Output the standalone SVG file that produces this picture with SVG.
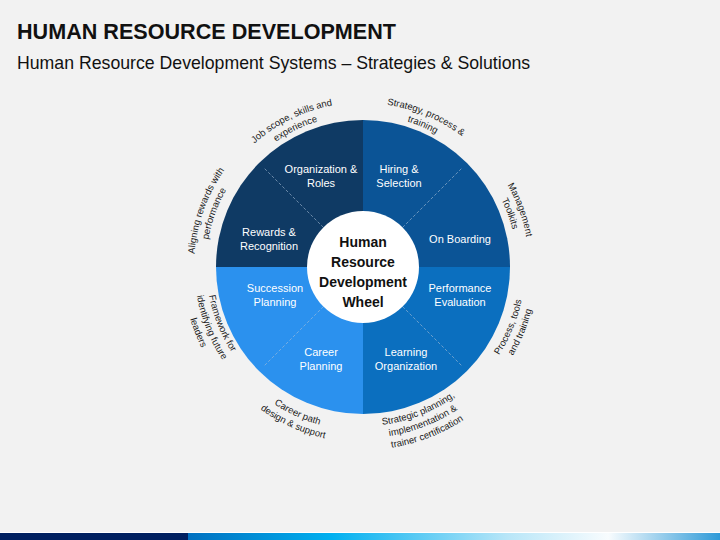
<svg xmlns="http://www.w3.org/2000/svg" width="720" height="540" viewBox="0 0 720 540">
<style>
.t{font-family:"Liberation Sans",Arial,sans-serif;fill:#111}
.sec{font-family:"Liberation Sans",Arial,sans-serif;font-size:11px;fill:#ffffff;text-anchor:middle}
.ctr{font-family:"Liberation Sans",Arial,sans-serif;font-size:14px;font-weight:bold;fill:#111;text-anchor:middle}
.lab{font-family:"Liberation Sans",Arial,sans-serif;font-size:9.5px;fill:#1a1a1a;text-anchor:middle}
.dash{stroke:#a9c0d6;stroke-opacity:0.75;stroke-width:0.8;stroke-dasharray:3 2;fill:none}
</style>
<defs>
<linearGradient id="bar" x1="0" y1="0" x2="1" y2="0">
<stop offset="0" stop-color="#0070c0"/>
<stop offset="0.27" stop-color="#00b0f0"/>
<stop offset="0.6" stop-color="#b8e6f8"/>
<stop offset="0.79" stop-color="#f8fcfe"/>
<stop offset="1" stop-color="#2e9ad8"/>
</linearGradient>
<path id="pA1" d="M203.4,227.2 A164.5,164.5 0 0 1 429.9,116.7"/>
<path id="pA2" d="M215.0,230.1 A152.5,152.5 0 0 1 425.0,127.7"/>
<path id="pB1" d="M288.0,121.1 A164,164 0 0 1 519.7,218.5"/>
<path id="pB2" d="M293.5,131.8 A152,152 0 0 1 508.2,222.1"/>
<path id="pC1" d="M419.8,111.0 A166,166 0 0 1 506.8,350.0"/>
<path id="pC2" d="M415.7,122.3 A154,154 0 0 1 496.4,344.0"/>
<path id="pD1" d="M412.0,421.4 A162,162 0 0 0 506.6,191.9"/>
<path id="pD2" d="M415.6,432.9 A174,174 0 0 0 517.2,186.4"/>
<path id="pE1" d="M286.4,406.3 A159,159 0 0 0 513.5,318.2"/>
<path id="pE2" d="M280.6,416.8 A171,171 0 0 0 524.9,322.1"/>
<path id="pE3" d="M274.8,427.4 A183,183 0 0 0 536.2,326.0"/>
<path id="pF1" d="M205.7,311.5 A163.5,163.5 0 0 0 434.2,414.2"/>
<path id="pF2" d="M194.1,314.8 A175.5,175.5 0 0 0 439.4,425.0"/>
<path id="pG1" d="M225.2,192.8 A156.5,156.5 0 0 0 313.9,415.6"/>
<path id="pG2" d="M214.6,187.1 A168.5,168.5 0 0 0 310.1,427.0"/>
<path id="pG3" d="M204.1,181.4 A180.5,180.5 0 0 0 306.3,438.4"/>
<path id="pH1" d="M217.1,352.3 A169,169 0 0 1 304.4,108.5"/>
<path id="pH2" d="M227.4,346.2 A157,157 0 0 1 308.5,119.7"/>
</defs>
<rect width="720" height="540" fill="#f2f2f2"/>
<text class="t" x="17" y="38.5" font-size="22" font-weight="bold" textLength="379" lengthAdjust="spacingAndGlyphs">HUMAN RESOURCE DEVELOPMENT</text>
<text class="t" x="17" y="69" font-size="17.7">Human Resource Development Systems – Strategies &amp; Solutions</text>
<g id="wheel">
<g id="q-top-left"><path d="M363,267 L216,267 A147,147 0 0 1 363,120 Z" fill="#0f3a64"/></g>
<g id="q-top-right"><path d="M363,267 L363,120 A147,147 0 0 1 510,267 Z" fill="#0b5496"/></g>
<g id="q-bottom-right"><path d="M363,267 L510,267 A147,147 0 0 1 363,414 Z" fill="#0b6fbf"/></g>
<g id="q-bottom-left"><path d="M363,267 L363,414 A147,147 0 0 1 216,267 Z" fill="#2b91ee"/></g>
</g>
<g id="connectors">
<line class="dash" x1="323.4" y1="227.4" x2="263.7" y2="167.7"/>
<line class="dash" x1="402.6" y1="227.4" x2="462.3" y2="167.7"/>
<line class="dash" x1="402.6" y1="306.6" x2="462.3" y2="366.3"/>
<line class="dash" x1="323.4" y1="306.6" x2="263.7" y2="366.3"/>
</g>
<g id="node-org"><text class="sec" x="321" y="173">Organization &amp;</text><text class="sec" x="321" y="187">Roles</text></g>
<g id="node-hiring"><text class="sec" x="399" y="173">Hiring &amp;</text><text class="sec" x="399" y="187">Selection</text></g>
<g id="node-onboarding"><text class="sec" x="460" y="243">On Boarding</text></g>
<g id="node-rewards"><text class="sec" x="269" y="236">Rewards &amp;</text><text class="sec" x="269" y="250">Recognition</text></g>
<g id="node-succession"><text class="sec" x="275" y="292">Succession</text><text class="sec" x="275" y="306">Planning</text></g>
<g id="node-career"><text class="sec" x="321" y="356">Career</text><text class="sec" x="321" y="370">Planning</text></g>
<g id="node-performance"><text class="sec" x="460" y="292">Performance</text><text class="sec" x="460" y="306">Evaluation</text></g>
<g id="node-learning"><text class="sec" x="406" y="356">Learning</text><text class="sec" x="406" y="370">Organization</text></g>
<g id="node-center">
<circle cx="363" cy="267" r="56" fill="#ffffff"/>
<text class="ctr" x="363" y="246.5">Human</text>
<text class="ctr" x="363" y="266.5">Resource</text>
<text class="ctr" x="363" y="286.5">Development</text>
<text class="ctr" x="363" y="306.5">Wheel</text>
</g>
<g id="outer-labels">
<text class="lab"><textPath href="#pA1" startOffset="50%">Job scope, skills and</textPath></text>
<text class="lab"><textPath href="#pA2" startOffset="50%">experience</textPath></text>
<text class="lab"><textPath href="#pB1" startOffset="50%">Strategy, process &amp;</textPath></text>
<text class="lab"><textPath href="#pB2" startOffset="50%">training</textPath></text>
<text class="lab"><textPath href="#pC1" startOffset="50%">Management</textPath></text>
<text class="lab"><textPath href="#pC2" startOffset="50%">Toolkits</textPath></text>
<text class="lab"><textPath href="#pD1" startOffset="50%">Process, tools</textPath></text>
<text class="lab"><textPath href="#pD2" startOffset="50%">and training</textPath></text>
<text class="lab"><textPath href="#pE1" startOffset="50%">Strategic planning,</textPath></text>
<text class="lab"><textPath href="#pE2" startOffset="50%">implementation &amp;</textPath></text>
<text class="lab"><textPath href="#pE3" startOffset="50%">trainer certification</textPath></text>
<text class="lab"><textPath href="#pF1" startOffset="50%">Career path</textPath></text>
<text class="lab"><textPath href="#pF2" startOffset="50%">design &amp; support</textPath></text>
<text class="lab"><textPath href="#pG1" startOffset="50%">Framework for</textPath></text>
<text class="lab"><textPath href="#pG2" startOffset="50%">identifying future</textPath></text>
<text class="lab"><textPath href="#pG3" startOffset="50%">leaders</textPath></text>
<text class="lab"><textPath href="#pH1" startOffset="50%">Aligning rewards with</textPath></text>
<text class="lab"><textPath href="#pH2" startOffset="50%">performance</textPath></text>
</g>
<g id="footer-bar">
<rect x="0" y="532" width="720" height="1" fill="#ffffff"/>
<rect x="0" y="533" width="188" height="7" fill="#002060"/>
<rect x="188" y="533" width="532" height="7" fill="url(#bar)"/>
</g>
</svg>
